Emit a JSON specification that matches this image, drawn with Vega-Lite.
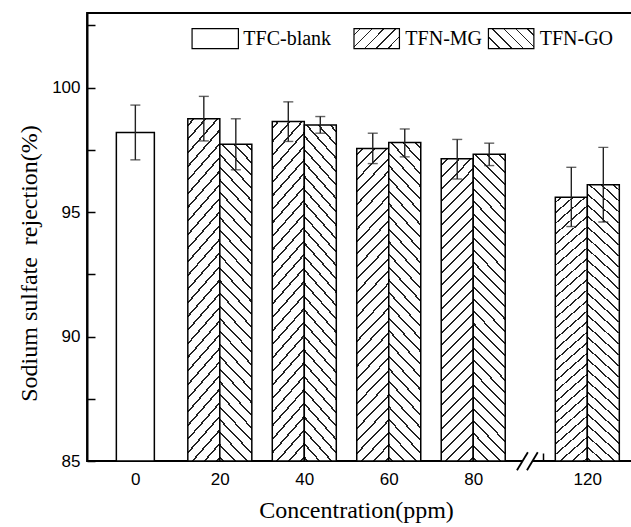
{
  "$schema": "https://vega.github.io/schema/vega-lite/v6.json",
  "width": 545,
  "height": 448,
  "autosize": {"type": "none"},
  "padding": {"left": 87, "top": 13, "right": 0, "bottom": 66},
  "background": "white",
  "config": {
    "view": {"stroke": "black", "strokeWidth": 1.8},
    "axis": {
      "domainColor": "black", "domainWidth": 2, "tickColor": "black", "tickWidth": 1.5,
      "labelFont": "Liberation Sans", "labelFontSize": 17, "labelColor": "black",
      "titleFont": "Liberation Serif", "titleFontSize": 24, "titleFontWeight": "normal", "titleColor": "black",
      "grid": false, "zindex": 1
    }
  },
  "data": {"values": [
    {"conc": 0, "series": "TFC-blank", "value": 98.2, "lo": 97.1, "hi": 99.3},
    {"conc": 20, "series": "TFN-MG", "value": 98.75, "lo": 97.86, "hi": 99.65},
    {"conc": 20, "series": "TFN-GO", "value": 97.73, "lo": 96.7, "hi": 98.75},
    {"conc": 40, "series": "TFN-MG", "value": 98.64, "lo": 97.84, "hi": 99.43},
    {"conc": 40, "series": "TFN-GO", "value": 98.5, "lo": 98.17, "hi": 98.84},
    {"conc": 60, "series": "TFN-MG", "value": 97.56, "lo": 96.95, "hi": 98.17},
    {"conc": 60, "series": "TFN-GO", "value": 97.8, "lo": 97.22, "hi": 98.34},
    {"conc": 80, "series": "TFN-MG", "value": 97.14, "lo": 96.33, "hi": 97.92},
    {"conc": 80, "series": "TFN-GO", "value": 97.32, "lo": 96.87, "hi": 97.77},
    {"conc": 120, "series": "TFN-MG", "value": 95.6, "lo": 94.42, "hi": 96.8},
    {"conc": 120, "series": "TFN-GO", "value": 96.1, "lo": 94.6, "hi": 97.6}
  ]},
  "layer": [
    {
      "encoding": {
        "x": {
          "field": "conc", "type": "quantitative", "title": "Concentration(ppm)",
          "scale": {"domain": [-10.15, 95.74, 109.5, 128.77], "range": [0, 452.7, 453.7, 545], "nice": false, "zero": false},
          "axis": {
            "values": [0, 20, 40, 60, 80, 110, 120],
            "labelExpr": "datum.value == 110 ? '' : datum.label",
            "tickSize": -8,
            "labelPadding": 18, "domain": false,
            "titleX": 269, "titleY": 37
          }
        },
        "y": {
          "field": "value", "type": "quantitative", "title": "Sodium sulfate\u00a0 rejection(%)",
          "scale": {"domain": [85, 103], "nice": false, "zero": false},
          "axis": {
            "values": [85, 87.5, 90, 92.5, 95, 97.5, 100, 102.5],
            "labelExpr": "datum.value % 5 == 0 ? datum.label : ''",
            "tickSize": -8,
            "labelPadding": 15,
            "titleX": -46, "titleY": 250
          }
        }
      },
      "layer": [
        {
          "transform": [{"filter": "datum.series === 'TFC-blank'"}],
          "layer": [
            {"mark": {"type": "bar", "width": 38, "fill": "white", "stroke": "black", "strokeWidth": 1.5},
             "encoding": {"y2": {"datum": 85}}},
            {"mark": {"type": "rule", "color": "#222", "strokeWidth": 1.4},
             "encoding": {"y": {"field": "lo", "type": "quantitative", "title": "Sodium sulfate\u00a0 rejection(%)"}, "y2": {"field": "hi"}}},
            {"mark": {"type": "tick", "orient": "horizontal", "size": 10, "thickness": 1.4, "color": "#222"},
             "encoding": {"y": {"field": "hi", "type": "quantitative", "title": "Sodium sulfate\u00a0 rejection(%)"}}},
            {"mark": {"type": "tick", "orient": "horizontal", "size": 10, "thickness": 1.4, "color": "#222"},
             "encoding": {"y": {"field": "lo", "type": "quantitative", "title": "Sodium sulfate\u00a0 rejection(%)"}}}
          ]
        },
        {
          "transform": [{"filter": "datum.series === 'TFN-MG'"}],
          "layer": [
            {"mark": {"type": "bar", "width": 32, "xOffset": -16, "stroke": "black", "strokeWidth": 1.5,
              "fill": {"gradient": "linear", "x1": 0, "y1": 0, "x2": 0.1167, "y2": 1.094, "stops": [
                {"offset": 0, "color": "#fff"},
                {"offset": 0.0150, "color": "#fff"}, {"offset": 0.0150, "color": "#222"}, {"offset": 0.0210, "color": "#222"}, {"offset": 0.0210, "color": "#fff"},
                {"offset": 0.0510, "color": "#fff"}, {"offset": 0.0510, "color": "#222"}, {"offset": 0.0570, "color": "#222"}, {"offset": 0.0570, "color": "#fff"},
                {"offset": 0.0870, "color": "#fff"}, {"offset": 0.0870, "color": "#222"}, {"offset": 0.0930, "color": "#222"}, {"offset": 0.0930, "color": "#fff"},
                {"offset": 0.1230, "color": "#fff"}, {"offset": 0.1230, "color": "#222"}, {"offset": 0.1290, "color": "#222"}, {"offset": 0.1290, "color": "#fff"},
                {"offset": 0.1590, "color": "#fff"}, {"offset": 0.1590, "color": "#222"}, {"offset": 0.1650, "color": "#222"}, {"offset": 0.1650, "color": "#fff"},
                {"offset": 0.1950, "color": "#fff"}, {"offset": 0.1950, "color": "#222"}, {"offset": 0.2010, "color": "#222"}, {"offset": 0.2010, "color": "#fff"},
                {"offset": 0.2310, "color": "#fff"}, {"offset": 0.2310, "color": "#222"}, {"offset": 0.2370, "color": "#222"}, {"offset": 0.2370, "color": "#fff"},
                {"offset": 0.2670, "color": "#fff"}, {"offset": 0.2670, "color": "#222"}, {"offset": 0.2730, "color": "#222"}, {"offset": 0.2730, "color": "#fff"},
                {"offset": 0.3030, "color": "#fff"}, {"offset": 0.3030, "color": "#222"}, {"offset": 0.3090, "color": "#222"}, {"offset": 0.3090, "color": "#fff"},
                {"offset": 0.3390, "color": "#fff"}, {"offset": 0.3390, "color": "#222"}, {"offset": 0.3450, "color": "#222"}, {"offset": 0.3450, "color": "#fff"},
                {"offset": 0.3750, "color": "#fff"}, {"offset": 0.3750, "color": "#222"}, {"offset": 0.3810, "color": "#222"}, {"offset": 0.3810, "color": "#fff"},
                {"offset": 0.4110, "color": "#fff"}, {"offset": 0.4110, "color": "#222"}, {"offset": 0.4170, "color": "#222"}, {"offset": 0.4170, "color": "#fff"},
                {"offset": 0.4470, "color": "#fff"}, {"offset": 0.4470, "color": "#222"}, {"offset": 0.4530, "color": "#222"}, {"offset": 0.4530, "color": "#fff"},
                {"offset": 0.4830, "color": "#fff"}, {"offset": 0.4830, "color": "#222"}, {"offset": 0.4890, "color": "#222"}, {"offset": 0.4890, "color": "#fff"},
                {"offset": 0.5190, "color": "#fff"}, {"offset": 0.5190, "color": "#222"}, {"offset": 0.5250, "color": "#222"}, {"offset": 0.5250, "color": "#fff"},
                {"offset": 0.5550, "color": "#fff"}, {"offset": 0.5550, "color": "#222"}, {"offset": 0.5610, "color": "#222"}, {"offset": 0.5610, "color": "#fff"},
                {"offset": 0.5910, "color": "#fff"}, {"offset": 0.5910, "color": "#222"}, {"offset": 0.5970, "color": "#222"}, {"offset": 0.5970, "color": "#fff"},
                {"offset": 0.6270, "color": "#fff"}, {"offset": 0.6270, "color": "#222"}, {"offset": 0.6330, "color": "#222"}, {"offset": 0.6330, "color": "#fff"},
                {"offset": 0.6630, "color": "#fff"}, {"offset": 0.6630, "color": "#222"}, {"offset": 0.6690, "color": "#222"}, {"offset": 0.6690, "color": "#fff"},
                {"offset": 0.6990, "color": "#fff"}, {"offset": 0.6990, "color": "#222"}, {"offset": 0.7050, "color": "#222"}, {"offset": 0.7050, "color": "#fff"},
                {"offset": 0.7350, "color": "#fff"}, {"offset": 0.7350, "color": "#222"}, {"offset": 0.7410, "color": "#222"}, {"offset": 0.7410, "color": "#fff"},
                {"offset": 0.7710, "color": "#fff"}, {"offset": 0.7710, "color": "#222"}, {"offset": 0.7770, "color": "#222"}, {"offset": 0.7770, "color": "#fff"},
                {"offset": 0.8070, "color": "#fff"}, {"offset": 0.8070, "color": "#222"}, {"offset": 0.8130, "color": "#222"}, {"offset": 0.8130, "color": "#fff"},
                {"offset": 0.8430, "color": "#fff"}, {"offset": 0.8430, "color": "#222"}, {"offset": 0.8490, "color": "#222"}, {"offset": 0.8490, "color": "#fff"},
                {"offset": 0.8790, "color": "#fff"}, {"offset": 0.8790, "color": "#222"}, {"offset": 0.8850, "color": "#222"}, {"offset": 0.8850, "color": "#fff"},
                {"offset": 0.9150, "color": "#fff"}, {"offset": 0.9150, "color": "#222"}, {"offset": 0.9210, "color": "#222"}, {"offset": 0.9210, "color": "#fff"},
                {"offset": 0.9510, "color": "#fff"}, {"offset": 0.9510, "color": "#222"}, {"offset": 0.9570, "color": "#222"}, {"offset": 0.9570, "color": "#fff"},
                {"offset": 0.9870, "color": "#fff"}, {"offset": 0.9870, "color": "#222"}, {"offset": 0.9930, "color": "#222"}, {"offset": 0.9930, "color": "#fff"},
                {"offset": 1, "color": "#fff"}
              ]}},
             "encoding": {"y2": {"datum": 85}}},
            {"mark": {"type": "rule", "color": "#222", "strokeWidth": 1.4, "xOffset": -16},
             "encoding": {"y": {"field": "lo", "type": "quantitative", "title": "Sodium sulfate\u00a0 rejection(%)"}, "y2": {"field": "hi"}}},
            {"mark": {"type": "tick", "orient": "horizontal", "size": 10, "thickness": 1.4, "color": "#222", "xOffset": -16},
             "encoding": {"y": {"field": "hi", "type": "quantitative", "title": "Sodium sulfate\u00a0 rejection(%)"}}},
            {"mark": {"type": "tick", "orient": "horizontal", "size": 10, "thickness": 1.4, "color": "#222", "xOffset": -16},
             "encoding": {"y": {"field": "lo", "type": "quantitative", "title": "Sodium sulfate\u00a0 rejection(%)"}}}
          ]
        },
        {
          "transform": [{"filter": "datum.series === 'TFN-GO'"}],
          "layer": [
            {"mark": {"type": "bar", "width": 32, "xOffset": 16, "stroke": "black", "strokeWidth": 1.5,
              "fill": {"gradient": "linear", "x1": 1, "y1": 0, "x2": 0.8833, "y2": 1.094, "stops": [
                {"offset": 0, "color": "#fff"},
                {"offset": 0.0150, "color": "#fff"}, {"offset": 0.0150, "color": "#222"}, {"offset": 0.0210, "color": "#222"}, {"offset": 0.0210, "color": "#fff"},
                {"offset": 0.0510, "color": "#fff"}, {"offset": 0.0510, "color": "#222"}, {"offset": 0.0570, "color": "#222"}, {"offset": 0.0570, "color": "#fff"},
                {"offset": 0.0870, "color": "#fff"}, {"offset": 0.0870, "color": "#222"}, {"offset": 0.0930, "color": "#222"}, {"offset": 0.0930, "color": "#fff"},
                {"offset": 0.1230, "color": "#fff"}, {"offset": 0.1230, "color": "#222"}, {"offset": 0.1290, "color": "#222"}, {"offset": 0.1290, "color": "#fff"},
                {"offset": 0.1590, "color": "#fff"}, {"offset": 0.1590, "color": "#222"}, {"offset": 0.1650, "color": "#222"}, {"offset": 0.1650, "color": "#fff"},
                {"offset": 0.1950, "color": "#fff"}, {"offset": 0.1950, "color": "#222"}, {"offset": 0.2010, "color": "#222"}, {"offset": 0.2010, "color": "#fff"},
                {"offset": 0.2310, "color": "#fff"}, {"offset": 0.2310, "color": "#222"}, {"offset": 0.2370, "color": "#222"}, {"offset": 0.2370, "color": "#fff"},
                {"offset": 0.2670, "color": "#fff"}, {"offset": 0.2670, "color": "#222"}, {"offset": 0.2730, "color": "#222"}, {"offset": 0.2730, "color": "#fff"},
                {"offset": 0.3030, "color": "#fff"}, {"offset": 0.3030, "color": "#222"}, {"offset": 0.3090, "color": "#222"}, {"offset": 0.3090, "color": "#fff"},
                {"offset": 0.3390, "color": "#fff"}, {"offset": 0.3390, "color": "#222"}, {"offset": 0.3450, "color": "#222"}, {"offset": 0.3450, "color": "#fff"},
                {"offset": 0.3750, "color": "#fff"}, {"offset": 0.3750, "color": "#222"}, {"offset": 0.3810, "color": "#222"}, {"offset": 0.3810, "color": "#fff"},
                {"offset": 0.4110, "color": "#fff"}, {"offset": 0.4110, "color": "#222"}, {"offset": 0.4170, "color": "#222"}, {"offset": 0.4170, "color": "#fff"},
                {"offset": 0.4470, "color": "#fff"}, {"offset": 0.4470, "color": "#222"}, {"offset": 0.4530, "color": "#222"}, {"offset": 0.4530, "color": "#fff"},
                {"offset": 0.4830, "color": "#fff"}, {"offset": 0.4830, "color": "#222"}, {"offset": 0.4890, "color": "#222"}, {"offset": 0.4890, "color": "#fff"},
                {"offset": 0.5190, "color": "#fff"}, {"offset": 0.5190, "color": "#222"}, {"offset": 0.5250, "color": "#222"}, {"offset": 0.5250, "color": "#fff"},
                {"offset": 0.5550, "color": "#fff"}, {"offset": 0.5550, "color": "#222"}, {"offset": 0.5610, "color": "#222"}, {"offset": 0.5610, "color": "#fff"},
                {"offset": 0.5910, "color": "#fff"}, {"offset": 0.5910, "color": "#222"}, {"offset": 0.5970, "color": "#222"}, {"offset": 0.5970, "color": "#fff"},
                {"offset": 0.6270, "color": "#fff"}, {"offset": 0.6270, "color": "#222"}, {"offset": 0.6330, "color": "#222"}, {"offset": 0.6330, "color": "#fff"},
                {"offset": 0.6630, "color": "#fff"}, {"offset": 0.6630, "color": "#222"}, {"offset": 0.6690, "color": "#222"}, {"offset": 0.6690, "color": "#fff"},
                {"offset": 0.6990, "color": "#fff"}, {"offset": 0.6990, "color": "#222"}, {"offset": 0.7050, "color": "#222"}, {"offset": 0.7050, "color": "#fff"},
                {"offset": 0.7350, "color": "#fff"}, {"offset": 0.7350, "color": "#222"}, {"offset": 0.7410, "color": "#222"}, {"offset": 0.7410, "color": "#fff"},
                {"offset": 0.7710, "color": "#fff"}, {"offset": 0.7710, "color": "#222"}, {"offset": 0.7770, "color": "#222"}, {"offset": 0.7770, "color": "#fff"},
                {"offset": 0.8070, "color": "#fff"}, {"offset": 0.8070, "color": "#222"}, {"offset": 0.8130, "color": "#222"}, {"offset": 0.8130, "color": "#fff"},
                {"offset": 0.8430, "color": "#fff"}, {"offset": 0.8430, "color": "#222"}, {"offset": 0.8490, "color": "#222"}, {"offset": 0.8490, "color": "#fff"},
                {"offset": 0.8790, "color": "#fff"}, {"offset": 0.8790, "color": "#222"}, {"offset": 0.8850, "color": "#222"}, {"offset": 0.8850, "color": "#fff"},
                {"offset": 0.9150, "color": "#fff"}, {"offset": 0.9150, "color": "#222"}, {"offset": 0.9210, "color": "#222"}, {"offset": 0.9210, "color": "#fff"},
                {"offset": 0.9510, "color": "#fff"}, {"offset": 0.9510, "color": "#222"}, {"offset": 0.9570, "color": "#222"}, {"offset": 0.9570, "color": "#fff"},
                {"offset": 0.9870, "color": "#fff"}, {"offset": 0.9870, "color": "#222"}, {"offset": 0.9930, "color": "#222"}, {"offset": 0.9930, "color": "#fff"},
                {"offset": 1, "color": "#fff"}
              ]}},
             "encoding": {"y2": {"datum": 85}}},
            {"mark": {"type": "rule", "color": "#222", "strokeWidth": 1.4, "xOffset": 16},
             "encoding": {"y": {"field": "lo", "type": "quantitative", "title": "Sodium sulfate\u00a0 rejection(%)"}, "y2": {"field": "hi"}}},
            {"mark": {"type": "tick", "orient": "horizontal", "size": 10, "thickness": 1.4, "color": "#222", "xOffset": 16},
             "encoding": {"y": {"field": "hi", "type": "quantitative", "title": "Sodium sulfate\u00a0 rejection(%)"}}},
            {"mark": {"type": "tick", "orient": "horizontal", "size": 10, "thickness": 1.4, "color": "#222", "xOffset": 16},
             "encoding": {"y": {"field": "lo", "type": "quantitative", "title": "Sodium sulfate\u00a0 rejection(%)"}}}
          ]
        }
      ]
    },
    {
      "data": {"values": [{"item": "break"}]},
      "mark": {"type": "rect", "fill": "white", "strokeWidth": 0},
      "encoding": {"x": {"datum": 91.78, "title": "Concentration(ppm)"}, "x2": {"datum": 94.13}, "y": {"datum": 85.11, "title": "Sodium sulfate\u00a0 rejection(%)"}, "y2": {"datum": 84.87}}
    },
    {
      "data": {"values": [{"item": "break"}]},
      "mark": {"type": "rule", "color": "black", "strokeWidth": 1.8},
      "encoding": {"x": {"datum": 90.36, "title": "Concentration(ppm)"}, "x2": {"datum": 92.94}, "y": {"datum": 84.625, "title": "Sodium sulfate\u00a0 rejection(%)"}, "y2": {"datum": 85.35}}
    },
    {
      "data": {"values": [{"item": "break"}]},
      "mark": {"type": "rule", "color": "black", "strokeWidth": 1.8},
      "encoding": {"x": {"datum": 92.73, "title": "Concentration(ppm)"}, "x2": {"datum": 95.28}, "y": {"datum": 84.625, "title": "Sodium sulfate\u00a0 rejection(%)"}, "y2": {"datum": 85.35}}
    },
    {
      "data": {"values": [{"item": "legend"}]},
      "mark": {"type": "rect", "fill": "white", "stroke": "black", "strokeWidth": 1.2},
      "encoding": {"x": {"datum": 13.43, "title": "Concentration(ppm)"}, "x2": {"datum": 24.4}, "y": {"datum": 102.37, "title": "Sodium sulfate\u00a0 rejection(%)"}, "y2": {"datum": 101.57}}
    },
    {
      "data": {"values": [{"item": "legend"}]},
      "mark": {"type": "rect", "stroke": "black", "strokeWidth": 1.2,
        "fill": {"gradient": "linear", "x1": 0, "y1": 0, "x2": 1.207, "y2": 0.525, "stops": [
          {"offset": 0, "color": "#fff"},
          {"offset": 0.089, "color": "#fff"}, {"offset": 0.089, "color": "#222"}, {"offset": 0.111, "color": "#222"}, {"offset": 0.111, "color": "#fff"},
          {"offset": 0.269, "color": "#fff"}, {"offset": 0.269, "color": "#222"}, {"offset": 0.291, "color": "#222"}, {"offset": 0.291, "color": "#fff"},
          {"offset": 0.449, "color": "#fff"}, {"offset": 0.449, "color": "#222"}, {"offset": 0.471, "color": "#222"}, {"offset": 0.471, "color": "#fff"},
          {"offset": 0.629, "color": "#fff"}, {"offset": 0.629, "color": "#222"}, {"offset": 0.651, "color": "#222"}, {"offset": 0.651, "color": "#fff"},
          {"offset": 0.809, "color": "#fff"}, {"offset": 0.809, "color": "#222"}, {"offset": 0.831, "color": "#222"}, {"offset": 0.831, "color": "#fff"},
          {"offset": 0.989, "color": "#fff"}, {"offset": 0.989, "color": "#222"}, {"offset": 1, "color": "#222"}
        ]}},
      "encoding": {"x": {"datum": 51.77, "title": "Concentration(ppm)"}, "x2": {"datum": 62.53}, "y": {"datum": 102.37, "title": "Sodium sulfate\u00a0 rejection(%)"}, "y2": {"datum": 101.57}}
    },
    {
      "data": {"values": [{"item": "legend"}]},
      "mark": {"type": "rect", "stroke": "black", "strokeWidth": 1.2,
        "fill": {"gradient": "linear", "x1": 1, "y1": 0, "x2": -0.207, "y2": 0.525, "stops": [
          {"offset": 0, "color": "#fff"},
          {"offset": 0.089, "color": "#fff"}, {"offset": 0.089, "color": "#222"}, {"offset": 0.111, "color": "#222"}, {"offset": 0.111, "color": "#fff"},
          {"offset": 0.269, "color": "#fff"}, {"offset": 0.269, "color": "#222"}, {"offset": 0.291, "color": "#222"}, {"offset": 0.291, "color": "#fff"},
          {"offset": 0.449, "color": "#fff"}, {"offset": 0.449, "color": "#222"}, {"offset": 0.471, "color": "#222"}, {"offset": 0.471, "color": "#fff"},
          {"offset": 0.629, "color": "#fff"}, {"offset": 0.629, "color": "#222"}, {"offset": 0.651, "color": "#222"}, {"offset": 0.651, "color": "#fff"},
          {"offset": 0.809, "color": "#fff"}, {"offset": 0.809, "color": "#222"}, {"offset": 0.831, "color": "#222"}, {"offset": 0.831, "color": "#fff"},
          {"offset": 0.989, "color": "#fff"}, {"offset": 0.989, "color": "#222"}, {"offset": 1, "color": "#222"}
        ]}},
      "encoding": {"x": {"datum": 83.6, "title": "Concentration(ppm)"}, "x2": {"datum": 94.36}, "y": {"datum": 102.37, "title": "Sodium sulfate\u00a0 rejection(%)"}, "y2": {"datum": 101.57}}
    },
    {
      "data": {"values": [{"item": "legend"}]},
      "mark": {"type": "text", "text": "TFC-blank", "align": "left", "baseline": "middle", "font": "Liberation Serif", "fontSize": 20, "color": "black"},
      "encoding": {"x": {"datum": 25.57, "title": "Concentration(ppm)"}, "y": {"datum": 101.97, "title": "Sodium sulfate\u00a0 rejection(%)"}}
    },
    {
      "data": {"values": [{"item": "legend"}]},
      "mark": {"type": "text", "text": "TFN-MG", "align": "left", "baseline": "middle", "font": "Liberation Serif", "fontSize": 20, "color": "black"},
      "encoding": {"x": {"datum": 63.93, "title": "Concentration(ppm)"}, "y": {"datum": 101.97, "title": "Sodium sulfate\u00a0 rejection(%)"}}
    },
    {
      "data": {"values": [{"item": "legend"}]},
      "mark": {"type": "text", "text": "TFN-GO", "align": "left", "baseline": "middle", "font": "Liberation Serif", "fontSize": 20, "color": "black"},
      "encoding": {"x": {"datum": 95.74, "title": "Concentration(ppm)"}, "y": {"datum": 101.97, "title": "Sodium sulfate\u00a0 rejection(%)"}}
    }
  ]
}
